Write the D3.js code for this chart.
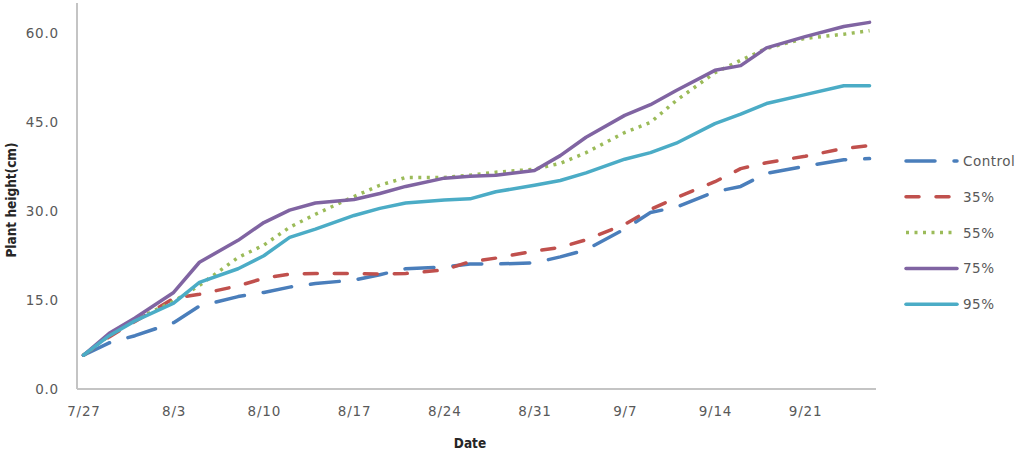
<!DOCTYPE html>
<html>
<head>
<meta charset="utf-8">
<script src="https://cdn.jsdelivr.net/npm/d3@7"></script>
<style>
  body { margin: 0; background: #fff; }
  .tick text { font-family: "DejaVu Sans", Verdana, sans-serif; }
</style>
</head>
<body>
<div id="chart"></div>
<script>
// measurement dates (m/d) and plant heights (cm) per treatment
var dates = ["7/27", "7/29", "7/31", "8/3", "8/5", "8/8", "8/10", "8/12", "8/14",
  "8/17", "8/19", "8/21", "8/24", "8/26", "8/28", "8/31", "9/2", "9/4",
  "9/7", "9/9", "9/11", "9/14", "9/16", "9/18", "9/21", "9/24", "9/26"];

var control = [5.7, 7.8, 9.0, 11.2, 14.0, 15.6, 16.3, 17.2, 17.8,
  18.4, 19.3, 20.3, 20.6, 21.1, 21.1, 21.3, 22.3, 23.5,
  27.0, 29.8, 30.7, 33.3, 34.2, 36.4, 37.6, 38.7, 38.9];
var shade35 = [5.7, 8.8, 11.4, 15.3, 16.0, 17.4, 18.7, 19.4, 19.5,
  19.5, 19.4, 19.5, 20.1, 21.5, 22.1, 23.3, 23.9, 25.2,
  27.8, 30.3, 32.3, 35.0, 37.2, 38.2, 39.3, 40.6, 41.1];
var shade55 = [5.7, 9.0, 11.7, 14.8, 17.5, 22.2, 24.3, 27.3, 29.5,
  32.5, 34.4, 35.7, 35.7, 36.1, 36.6, 37.1, 38.1, 39.9,
  43.3, 45.0, 48.7, 53.4, 55.5, 57.5, 59.2, 59.9, 60.5];
var shade75 = [5.7, 9.4, 12.0, 16.3, 21.4, 25.1, 28.1, 30.2, 31.4,
  32.0, 33.0, 34.2, 35.6, 35.9, 36.1, 36.9, 39.4, 42.5,
  46.2, 48.0, 50.4, 53.8, 54.6, 57.6, 59.5, 61.2, 61.9];
var shade95 = [5.7, 9.0, 11.5, 14.5, 18.0, 20.3, 22.5, 25.6, 27.0,
  29.3, 30.5, 31.4, 31.9, 32.1, 33.3, 34.4, 35.2, 36.5,
  38.8, 39.9, 41.5, 44.8, 46.4, 48.2, 49.7, 51.2, 51.2];

var seriesNames = ["Control", "35%", "55%", "75%", "95%"];
var seriesValues = [control, shade35, shade55, shade75, shade95];

var xTickLabels = ["7/27", "8/3", "8/10", "8/17", "8/24", "8/31", "9/7", "9/14", "9/21"];
var yTickValues = [0, 15, 30, 45, 60];

// styles for each series (Excel 2010 palette)
var colors = ["#4a7ebb", "#c0504d", "#9bbb59", "#8064a2", "#4bacc6"];
var dashes = ["29,19", "13,17", "3,5.5", null, null];
var caps = ["round", "round", "butt", "round", "round"];

var svgWidth = 1023;
var svgHeight = 468;

var svg = d3.select("#chart")
  .append("svg")
  .attr("width", svgWidth)
  .attr("height", svgHeight);

var parseDate = function (s) { return d3.timeParse("%m/%d/%Y")(s + "/2013"); };
var fmt = d3.timeFormat("%-m/%-d");

var x0 = parseDate("7/27"), x1 = parseDate("9/26");
var xScale = d3.scaleTime()
  .domain([d3.timeHour.offset(x0, -12), d3.timeHour.offset(x1, 12)])
  .range([77, 876]);

var yScale = d3.scaleLinear()
  .domain([0, 65])
  .range([389, 4]);

// axes - Excel style, no tick marks, gray lines
var xAxis = svg.append("g")
  .attr("transform", "translate(0,389)")
  .call(d3.axisBottom(xScale)
    .tickValues(xTickLabels.map(parseDate))
    .tickFormat(fmt)
    .tickSize(0)
    .tickPadding(17));

var yAxis = svg.append("g")
  .attr("transform", "translate(77,0)")
  .call(d3.axisLeft(yScale)
    .tickValues(yTickValues)
    .tickFormat(d3.format(".1f"))
    .tickSize(0)
    .tickPadding(18));

svg.selectAll(".domain")
  .attr("stroke", "#c4c4c4")
  .attr("stroke-width", 2);
yAxis.select(".domain").attr("d", "M0,3V389");
xAxis.select(".domain").attr("d", "M77,0H876");

svg.selectAll(".tick text")
  .attr("fill", "#595959")
  .attr("font-size", "13.5px")
  .attr("letter-spacing", "0.8px");

// axis titles
svg.append("text")
  .attr("transform", "translate(16,200) rotate(-90)")
  .attr("text-anchor", "middle")
  .attr("font-family", "'DejaVu Sans Condensed', 'DejaVu Sans', sans-serif")
  .attr("font-weight", "bold")
  .attr("font-size", "13.5px")
  .attr("fill", "#262626")
  .text("Plant height(cm)");

svg.append("text")
  .attr("x", 470)
  .attr("y", 448)
  .attr("text-anchor", "middle")
  .attr("font-family", "'DejaVu Sans Condensed', 'DejaVu Sans', sans-serif")
  .attr("font-weight", "bold")
  .attr("font-size", "13.5px")
  .attr("fill", "#262626")
  .text("Date");

// lines
var line = d3.line()
  .x(function (d, i) { return xScale(parseDate(dates[i])); })
  .y(function (d) { return yScale(d); });

seriesValues.forEach(function (vals, k) {
  svg.append("path")
    .datum(vals)
    .attr("fill", "none")
    .attr("stroke", colors[k])
    .attr("stroke-width", 3.5)
    .attr("stroke-linejoin", "round")
    .attr("stroke-linecap", caps[k])
    .attr("stroke-dasharray", dashes[k])
    .attr("d", line);
});

// legend
var legend = svg.append("g");
seriesNames.forEach(function (name, k) {
  var ly = 161 + k * 35.8;
  legend.append("line")
    .attr("x1", 906).attr("x2", 957)
    .attr("y1", ly).attr("y2", ly)
    .attr("stroke", colors[k])
    .attr("stroke-width", 3.5)
    .attr("stroke-linecap", caps[k])
    .attr("stroke-dasharray", dashes[k]);
  legend.append("text")
    .attr("x", 963)
    .attr("y", ly + 5)
    .attr("font-family", "'DejaVu Sans', Verdana, sans-serif")
    .attr("font-size", "13.5px")
    .attr("letter-spacing", "0.5px")
    .attr("fill", "#595959")
    .text(name);
});
</script>
</body>
</html>
